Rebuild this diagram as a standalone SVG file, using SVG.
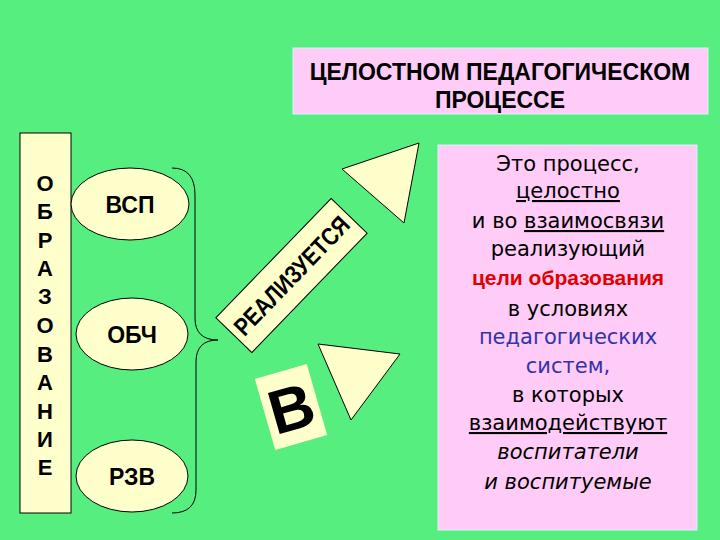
<svg xmlns="http://www.w3.org/2000/svg" width="720" height="540" viewBox="0 0 720 540">
<style>
.cream{fill:#FFFFCC;stroke:#000;stroke-width:1}
.b{font-family:"Liberation Sans",Arial,sans-serif;font-weight:bold;text-anchor:middle}
.r{font-family:"DejaVu Sans","Noto Sans",sans-serif;font-size:21px;text-anchor:middle}
</style>
<rect width="720" height="540" fill="#55EE7F"/>
<g id="title">
<rect x="293" y="48" width="415" height="66" fill="#FFCCF8" stroke="#DDEEFF" stroke-width="1"/>
<text class="b" x="500" y="80" font-size="23">ЦЕЛОСТНОМ ПЕДАГОГИЧЕСКОМ</text>
<text class="b" x="500" y="108" font-size="23">ПРОЦЕССЕ</text>
</g>
<g id="obrazovanie">
<rect class="cream" x="20" y="133" width="51" height="380"/>
<text class="b" font-size="22">
<tspan x="45" y="191">О</tspan><tspan x="45" y="219">Б</tspan><tspan x="45" y="248">Р</tspan><tspan x="45" y="276">А</tspan><tspan x="45" y="304">З</tspan><tspan x="45" y="333">О</tspan><tspan x="45" y="362">В</tspan><tspan x="45" y="390">А</tspan><tspan x="45" y="419">Н</tspan><tspan x="45" y="447">И</tspan><tspan x="45" y="475">Е</tspan>
</text>
</g>
<g id="vsp">
<ellipse class="cream" cx="130" cy="204" rx="59" ry="36"/>
<text class="b" x="130" y="213" font-size="23">ВСП</text>
</g>
<g id="obch">
<ellipse class="cream" cx="132" cy="334" rx="56" ry="36"/>
<text class="b" x="132" y="343" font-size="23">ОБЧ</text>
</g>
<g id="rzv">
<ellipse class="cream" cx="132" cy="476" rx="56" ry="36"/>
<text class="b" x="132" y="485" font-size="23">РЗВ</text>
</g>
<g id="connectors">
<path d="M172,168 Q195,168 195,195 L195,318 Q195,340 218,340 Q196,340 196,362 L196,490 Q196,513 172,513" fill="none" stroke="#000" stroke-width="1"/>
</g>
<g id="realizuetsya">
<g transform="translate(291.5,275.5) rotate(-46)">
<rect class="cream" x="-83" y="-25" width="166" height="50"/>
<text class="b" x="0" y="9" font-size="25" textLength="154" lengthAdjust="spacingAndGlyphs">РЕАЛИЗУЕТСЯ</text>
</g>
</g>
<g id="tri1"><polygon class="cream" points="342,169 419,143 404,223"/></g>
<g id="tri2"><polygon class="cream" points="318,344 400,354 351,420"/></g>
<g id="v">
<g transform="translate(291,407) rotate(-16)">
<rect x="-27" y="-37" width="54" height="74" fill="#FFFFCC"/>
<text class="b" x="0" y="23" font-size="62">В</text>
</g>
</g>
<g id="definition">
<rect x="438" y="145" width="259" height="385" fill="#FFCCF8" stroke="#DDEEFF" stroke-width="1"/>
<text class="r" x="568" y="171">Это процесс,</text>
<text class="r" x="568" y="198" text-decoration="underline">целостно</text>
<text class="r" x="568" y="228">и во <tspan text-decoration="underline">взаимосвязи</tspan></text>
<text class="r" x="568" y="256">реализующий</text>
<text x="568" y="285" style="fill:#E00000;font-family:'Liberation Sans',Arial,sans-serif;font-weight:bold;font-size:21px;text-anchor:middle">цели образования</text>
<text class="r" x="568" y="316">в условиях</text>
<text class="r" x="568" y="344" style="fill:#3333AA">педагогических</text>
<text class="r" x="568" y="373" style="fill:#3333AA">систем,</text>
<text class="r" x="568" y="402">в которых</text>
<text class="r" x="568" y="430" text-decoration="underline">взаимодействуют</text>
<text class="r" x="568" y="459" font-style="italic">воспитатели</text>
<text class="r" x="568" y="489" font-style="italic">и воспитуемые</text>
</g>
</svg>
